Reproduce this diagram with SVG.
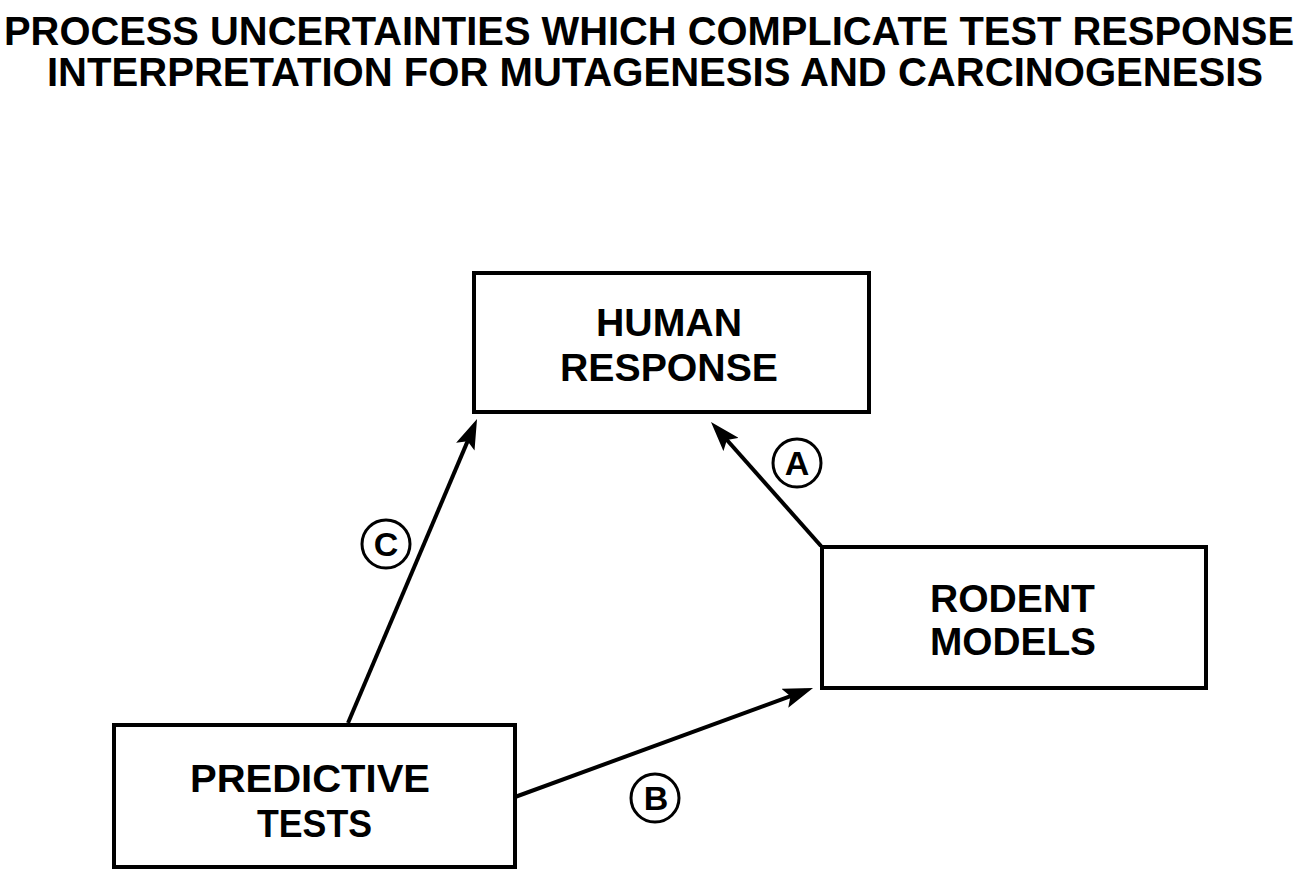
<svg xmlns="http://www.w3.org/2000/svg" width="1300" height="882" viewBox="0 0 1300 882">
<style>
.box{fill:#fff;stroke:#000;stroke-width:4}
.title{font-family:"Liberation Sans",Arial,sans-serif;font-weight:bold;font-size:36px;fill:#000}
.lbl{font-family:"Liberation Sans",Arial,sans-serif;font-weight:bold;font-size:38px;fill:#000;text-anchor:start}
.edge{stroke:#000;stroke-width:4;fill:none;marker-end:url(#arr)}
.ring{fill:#fff;stroke:#000;stroke-width:3}
.tag{font-family:"Liberation Sans",Arial,sans-serif;font-weight:bold;font-size:34px;fill:#000;text-anchor:middle}
</style>
<defs>
<marker id="arr" markerUnits="userSpaceOnUse" viewBox="0 0 30 20" refX="22" refY="10" markerWidth="30" markerHeight="20" orient="auto">
<path d="M0,0 L30,10 L0,20 L6,10 Z" fill="#000"/>
</marker>
</defs>
<rect width="1300" height="882" fill="#fff"/>
<g id="title" transform="scale(1,1.14)">
<text class="title" x="4" y="39.6" textLength="1290" lengthAdjust="spacingAndGlyphs">PROCESS UNCERTAINTIES WHICH COMPLICATE TEST RESPONSE</text>
<text class="title" x="47" y="75.4" textLength="1216" lengthAdjust="spacingAndGlyphs">INTERPRETATION FOR MUTAGENESIS AND CARCINOGENESIS</text>
</g>
<g id="connectors">
<line class="edge" x1="348" y1="723" x2="473.9" y2="426.4"/>
<line class="edge" x1="821" y1="546" x2="716.3" y2="428"/>
<line class="edge" x1="515" y1="797" x2="805.5" y2="690.7"/>
<g id="label-A"><circle class="ring" cx="797" cy="463" r="24"/><text class="tag" x="797" y="475">A</text></g>
<g id="label-B"><circle class="ring" cx="655" cy="798" r="24"/><text class="tag" x="656" y="810">B</text></g>
<g id="label-C"><circle class="ring" cx="386" cy="544" r="24"/><text class="tag" x="386" y="556">C</text></g>
</g>
<g id="human-response">
<rect class="box" x="474" y="273" width="395" height="139"/>
<text class="lbl" x="596" y="336" textLength="146" lengthAdjust="spacingAndGlyphs">HUMAN</text>
<text class="lbl" x="560" y="381" textLength="218" lengthAdjust="spacingAndGlyphs">RESPONSE</text>
</g>
<g id="rodent-models">
<rect class="box" x="822" y="547" width="384" height="141"/>
<text class="lbl" x="930" y="612" textLength="165" lengthAdjust="spacingAndGlyphs">RODENT</text>
<text class="lbl" x="930" y="655" textLength="166" lengthAdjust="spacingAndGlyphs">MODELS</text>
</g>
<g id="predictive-tests">
<rect class="box" x="114" y="725" width="401" height="142"/>
<text class="lbl" x="190" y="792" textLength="240" lengthAdjust="spacingAndGlyphs">PREDICTIVE</text>
<text class="lbl" x="257" y="837" textLength="115" lengthAdjust="spacingAndGlyphs">TESTS</text>
</g>
</svg>
